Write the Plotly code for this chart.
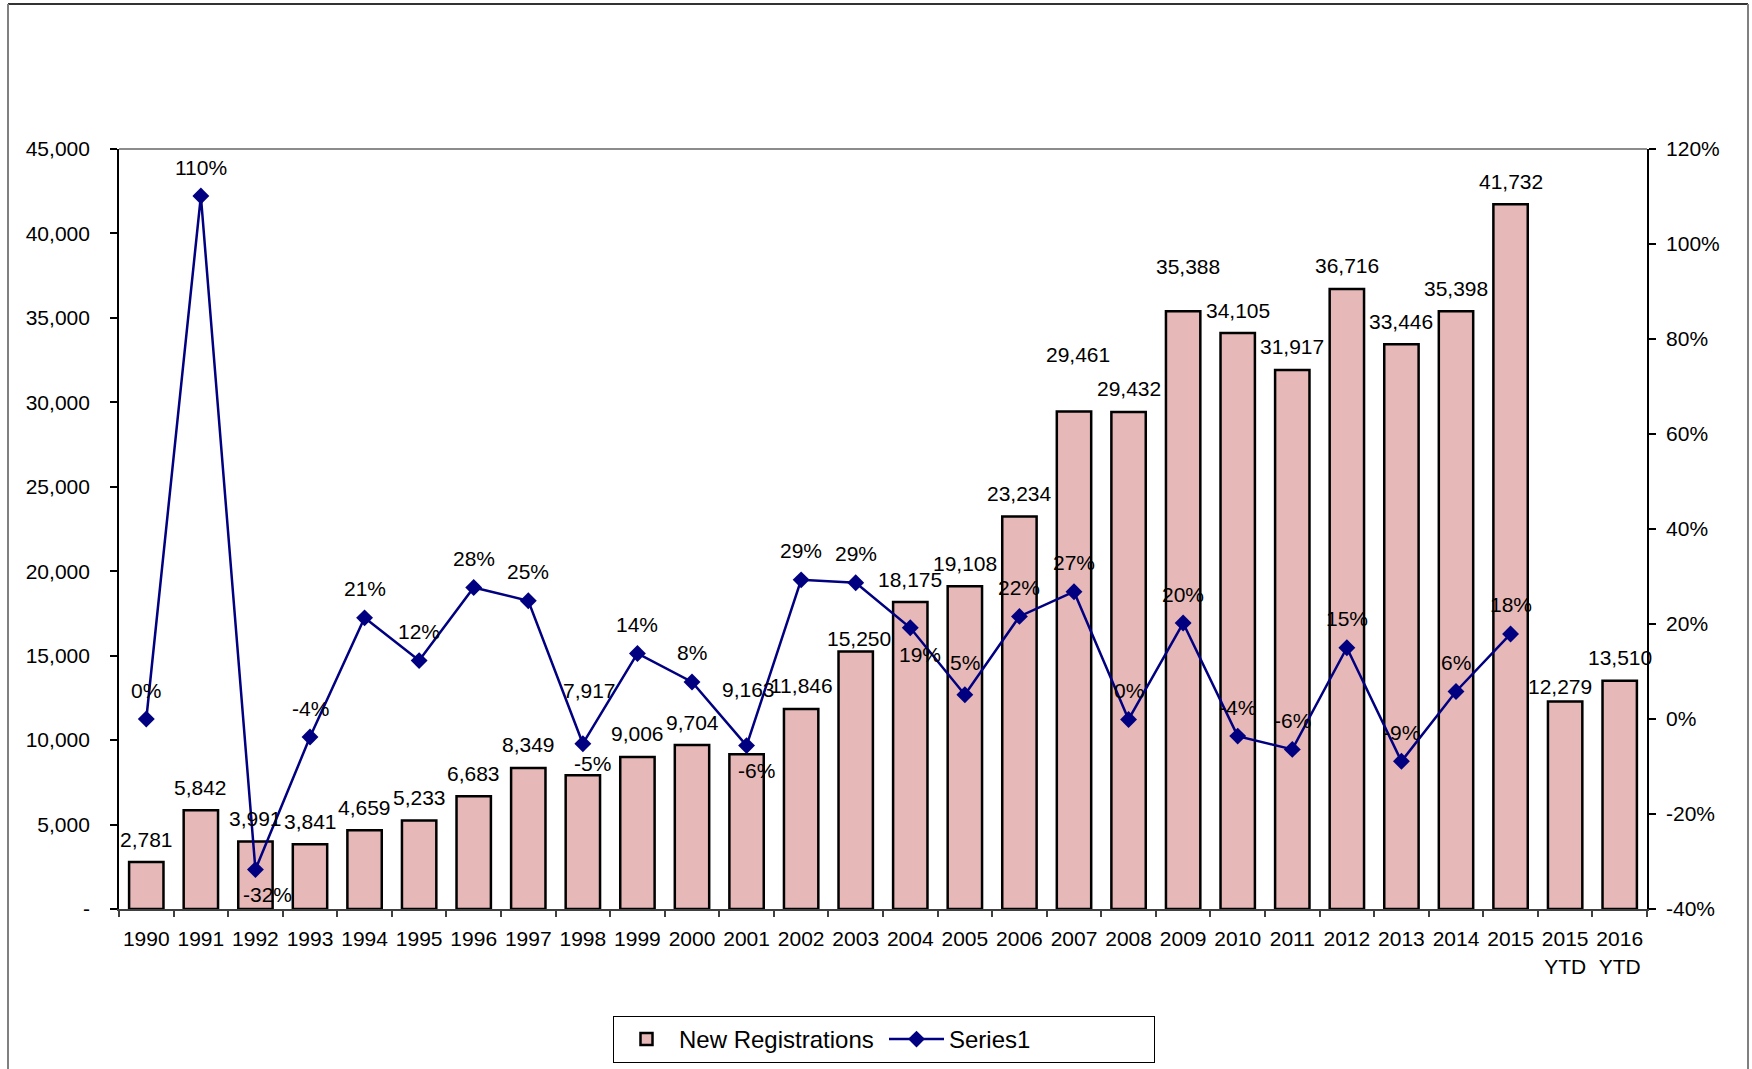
import plotly.graph_objects as go

# ---------------- data ----------------
categories = ["1990", "1991", "1992", "1993", "1994", "1995", "1996", "1997", "1998", "1999",
              "2000", "2001", "2002", "2003", "2004", "2005", "2006", "2007", "2008", "2009",
              "2010", "2011", "2012", "2013", "2014", "2015", "2015<br>YTD", "2016<br>YTD"]
new_registrations = [2781, 5842, 3991, 3841, 4659, 5233, 6683, 8349, 7917, 9006,
                     9704, 9163, 11846, 15250, 18175, 19108, 23234, 29461, 29432, 35388,
                     34105, 31917, 36716, 33446, 35398, 41732, 12279, 13510]
series1_pct = [0.0, 110.1, -31.7, -3.8, 21.3, 12.3, 27.7, 24.9, -5.2, 13.8,
               7.8, -5.6, 29.3, 28.7, 19.2, 5.1, 21.6, 26.8, -0.1, 20.2,
               -3.6, -6.4, 15.0, -8.9, 5.8, 17.9, None, None]
left_tickvals = [0, 5000, 10000, 15000, 20000, 25000, 30000, 35000, 40000, 45000]
left_ticktext = ["-", "5,000", "10,000", "15,000", "20,000", "25,000", "30,000", "35,000", "40,000", "45,000"]
right_tickvals = [-40, -20, 0, 20, 40, 60, 80, 100, 120]
right_ticktext = ["-40%", "-20%", "0%", "20%", "40%", "60%", "80%", "100%", "120%"]

# ---------------- label placement (style) ----------------
bar_label_shift = {8: (7, 85), 11: (2, 65), 13: (3, 13), 17: (4, 57), 19: (5, 45), 26: (-5, 15)}
line_label_shift = {2: (12, -25), 8: (10, -20), 11: (10, -25), 14: (10, -27), 15: (0, 32)}

FONT = "Liberation Sans, Arial, sans-serif"
FS = 21
BAR_FILL = "#E6B8B8"
NAVY = "#000080"
NB = "\u00a0"

idx = list(range(len(categories)))

fig = go.Figure()
fig.add_trace(go.Bar(
    x=idx, y=new_registrations, name="New Registrations",
    marker=dict(color=BAR_FILL, line=dict(color="black", width=2.5)),
    yaxis="y",
))
fig.add_trace(go.Scatter(
    x=idx, y=series1_pct, name="Series1", mode="lines+markers",
    line=dict(color=NAVY, width=2.5),
    marker=dict(symbol="diamond", size=13, color=NAVY),
    yaxis="y2", connectgaps=False,
))

annotations = []
for i, v in enumerate(new_registrations):
    dx, dy = bar_label_shift.get(i, (0, 23))
    annotations.append(dict(
        x=i, y=v, xref="x", yref="y", text=f"{v:,}", showarrow=False,
        xanchor="center", yanchor="middle", xshift=dx, yshift=dy,
        font=dict(family=FONT, size=FS, color="black"),
    ))
for i, v in enumerate(series1_pct):
    if v is None:
        continue
    dx, dy = line_label_shift.get(i, (0, 29))
    annotations.append(dict(
        x=i, y=v, xref="x", yref="y2", text=f"{round(v):d}%", showarrow=False,
        xanchor="center", yanchor="middle", xshift=dx, yshift=dy,
        font=dict(family=FONT, size=FS, color="black"),
    ))

# paper-coordinate helpers for the outer frame (plot area spans 119..1647 x 149..909)
L, R, T, B = 119, 1647, 149, 909
def px(xp):
    return (xp - L) / (R - L)
def py(yp):
    return (B - yp) / (B - T)

shapes = [
    dict(type="line", xref="paper", yref="paper", x0=0, x1=1, y0=1, y1=1,
         line=dict(color="#8C8C8C", width=2)),
    dict(type="line", xref="paper", yref="paper", x0=px(8), x1=px(1748), y0=py(4), y1=py(4),
         line=dict(color="#333333", width=2)),
    dict(type="line", xref="paper", yref="paper", x0=px(8), x1=px(8), y0=py(4), y1=py(1080),
         line=dict(color="#808080", width=2)),
    dict(type="line", xref="paper", yref="paper", x0=px(1748), x1=px(1748), y0=py(4), y1=py(1080),
         line=dict(color="#808080", width=2)),
]

# category boundaries for x ticks
boundaries = [i - 0.5 for i in range(len(categories) + 1)]

fig.update_layout(
    width=1752, height=1069,
    margin=dict(l=L, r=1752 - R, t=T, b=1069 - B, autoexpand=False),
    paper_bgcolor="white", plot_bgcolor="white",
    font=dict(family=FONT, size=FS, color="black"),
    bargap=0.37,
    showlegend=True,
    legend=dict(
        orientation="h", x=px(884), xanchor="center", y=py(1016), yanchor="top",
        bordercolor="black", borderwidth=1, bgcolor="white",
        font=dict(family=FONT, size=24, color="black"),
        traceorder="normal", entrywidth=200, itemwidth=55,
    ),
    xaxis=dict(
        range=[-0.5, len(categories) - 0.5],
        tickmode="array", tickvals=idx, ticktext=categories,
        showline=True, linecolor="#404040", linewidth=2,
        ticks="outside", ticklen=10, tickcolor="rgba(0,0,0,0)",
        showgrid=False, zeroline=False,
        tickfont=dict(size=FS, family=FONT, color="black"),
    ),
    xaxis2=dict(
        overlaying="x", range=[-0.5, len(categories) - 0.5],
        tickmode="array", tickvals=boundaries, ticktext=[""] * len(boundaries),
        ticks="outside", ticklen=7, tickcolor="#404040", tickwidth=1.5,
        showline=False, showgrid=False, zeroline=False, side="bottom",
    ),
    yaxis=dict(
        range=[0, 45000], tickmode="array", tickvals=left_tickvals,
        ticktext=[t + NB * 2 + "\u2009" for t in left_ticktext],
        showline=True, linecolor="black", linewidth=2,
        ticks="outside", ticklen=7, tickcolor="black", tickwidth=1.5,
        showgrid=False, zeroline=False, tickfont=dict(size=FS, family=FONT, color="black"),
    ),
    yaxis2=dict(
        range=[-40, 120], tickmode="array", tickvals=right_tickvals,
        ticktext=[NB + t for t in right_ticktext],
        overlaying="y", side="right",
        showline=True, linecolor="black", linewidth=2,
        ticks="outside", ticklen=7, tickcolor="black", tickwidth=1.5,
        showgrid=False, zeroline=False, tickfont=dict(size=FS, family=FONT, color="black"),
    ),
    annotations=annotations,
    shapes=shapes,
)
# invisible helper trace so xaxis2 (boundary ticks) is drawn
fig.add_trace(go.Scatter(x=[None], y=[None], xaxis="x2", yaxis="y", showlegend=False, hoverinfo="skip"))

fig.write_html("out.html", config={"displayModeBar": False},
               post_script="document.body.style.margin='0px';")
